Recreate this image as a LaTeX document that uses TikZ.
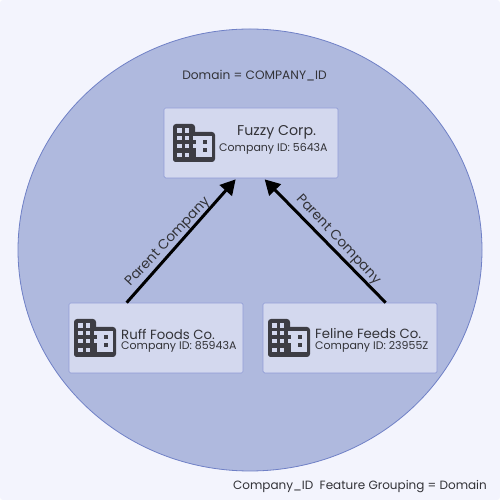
\documentclass[tikz,border=0pt]{standalone}
\usepackage{fontspec}
\setmainfont{Poppins}
\usetikzlibrary{arrows.meta,shapes.geometric}
\definecolor{pagebg}{HTML}{F3F4FD}
\definecolor{domfill}{HTML}{AFB9DE}
\definecolor{domline}{HTML}{6F80C6}
\definecolor{boxfill}{HTML}{D3D8EE}
\definecolor{boxline}{HTML}{909CD6}
\definecolor{ink}{HTML}{333338}
\definecolor{iconc}{HTML}{3D3D44}
\tikzset{
  x=1pt,y=1pt,
  domainshape/.style={ellipse,draw=domline,fill=domfill,line width=0.8pt,minimum width=464pt,minimum height=442pt,inner sep=0pt},
  company/.style={rectangle,rounded corners=1.5pt,draw=boxline,fill=boxfill,line width=0.7pt,minimum width=174pt,minimum height=70pt,inner sep=0pt},
  bigtext/.style={text=ink,font=\fontsize{13.3}{13.3}\selectfont,inner sep=0pt,anchor=west},
  toptext/.style={text=ink,font=\fontsize{14.2}{14.2}\selectfont,inner sep=0pt,anchor=west},
  smalltext/.style={text=ink,font=\fontsize{11}{11}\selectfont,inner sep=0pt,anchor=west},
  captext/.style={text=ink,font=\fontsize{12.2}{12.2}\selectfont,inner sep=0pt},
  edgelab/.style={text=ink,font=\fontsize{13.7}{13.7}\selectfont,inner sep=0pt},
  parentarrow/.style={line width=3pt,black,-{Triangle[length=15pt,width=16pt]}},
  building/.pic={
    \fill[iconc,rounded corners=3pt] (0,0) rectangle (22,38);
    \fill[iconc,rounded corners=3pt] (0,0) rectangle (42,30);
    \fill[boxfill] (22.5,4.5) rectangle (38.5,26);
    \foreach \wx in {4.3,12}{\foreach \wy in {4.7,13.7,21.7,29.3}{\fill[boxfill] (\wx,\wy) rectangle ++(4.4,4.2);}}
    \foreach \wy in {13.7,21.7}{\fill[boxfill] (19.5,\wy) rectangle ++(4,4.2);}
    \foreach \wy in {9.5,18}{\fill[iconc] (30,\wy) rectangle ++(4,4.2);}
  }
}
\begin{document}
\begin{tikzpicture}
\useasboundingbox (0,0) rectangle (500,500);
\fill[white] (0,0) rectangle (500,500);
\fill[pagebg,rounded corners=3pt] (0,0) rectangle (500,500);
\node[domainshape] (dom) at (250,250) {};
\node[company] (fuzzy) at (251,357) {};
\node[company] (ruff) at (156,162) {};
\node[company] (feline) at (350,162) {};
\pic at (173,338) {building};
\pic at (74,143) {building};
\pic at (268,143) {building};
\node[captext] (domlabel) at (254.5,424) {Domain = COMPANY\_ID};
\node[toptext] (n1) at (237,367.5) {Fuzzy Corp.};
\node[smalltext] (i1) at (219,351.5) {Company ID: 5643A};
\node[bigtext] (n2) at (121,166) {Ruff Foods Co.};
\node[smalltext] (i2) at (121,153.5) {Company ID: 85943A};
\node[bigtext] (n3) at (315,166) {Feline Feeds Co.};
\node[smalltext] (i3) at (315,153.5) {Company ID: 23955Z};
\draw[parentarrow] ([shift={(58,0)}]ruff.north west) -- ([shift={(72,-1)}]fuzzy.south west);
\draw[parentarrow] ([shift={(123,0)}]feline.north west) -- ([shift={(101,-1)}]fuzzy.south west);
\node[edgelab,rotate=47] (p1) at (168,258) {Parent Company};
\node[edgelab,rotate=-47] (p2) at (338,260) {Parent Company};
\node[captext,font=\fontsize{12}{12}\selectfont] (foot) at (360,13) {Company\_ID\ \ Feature Grouping = Domain};
\end{tikzpicture}
\end{document}
